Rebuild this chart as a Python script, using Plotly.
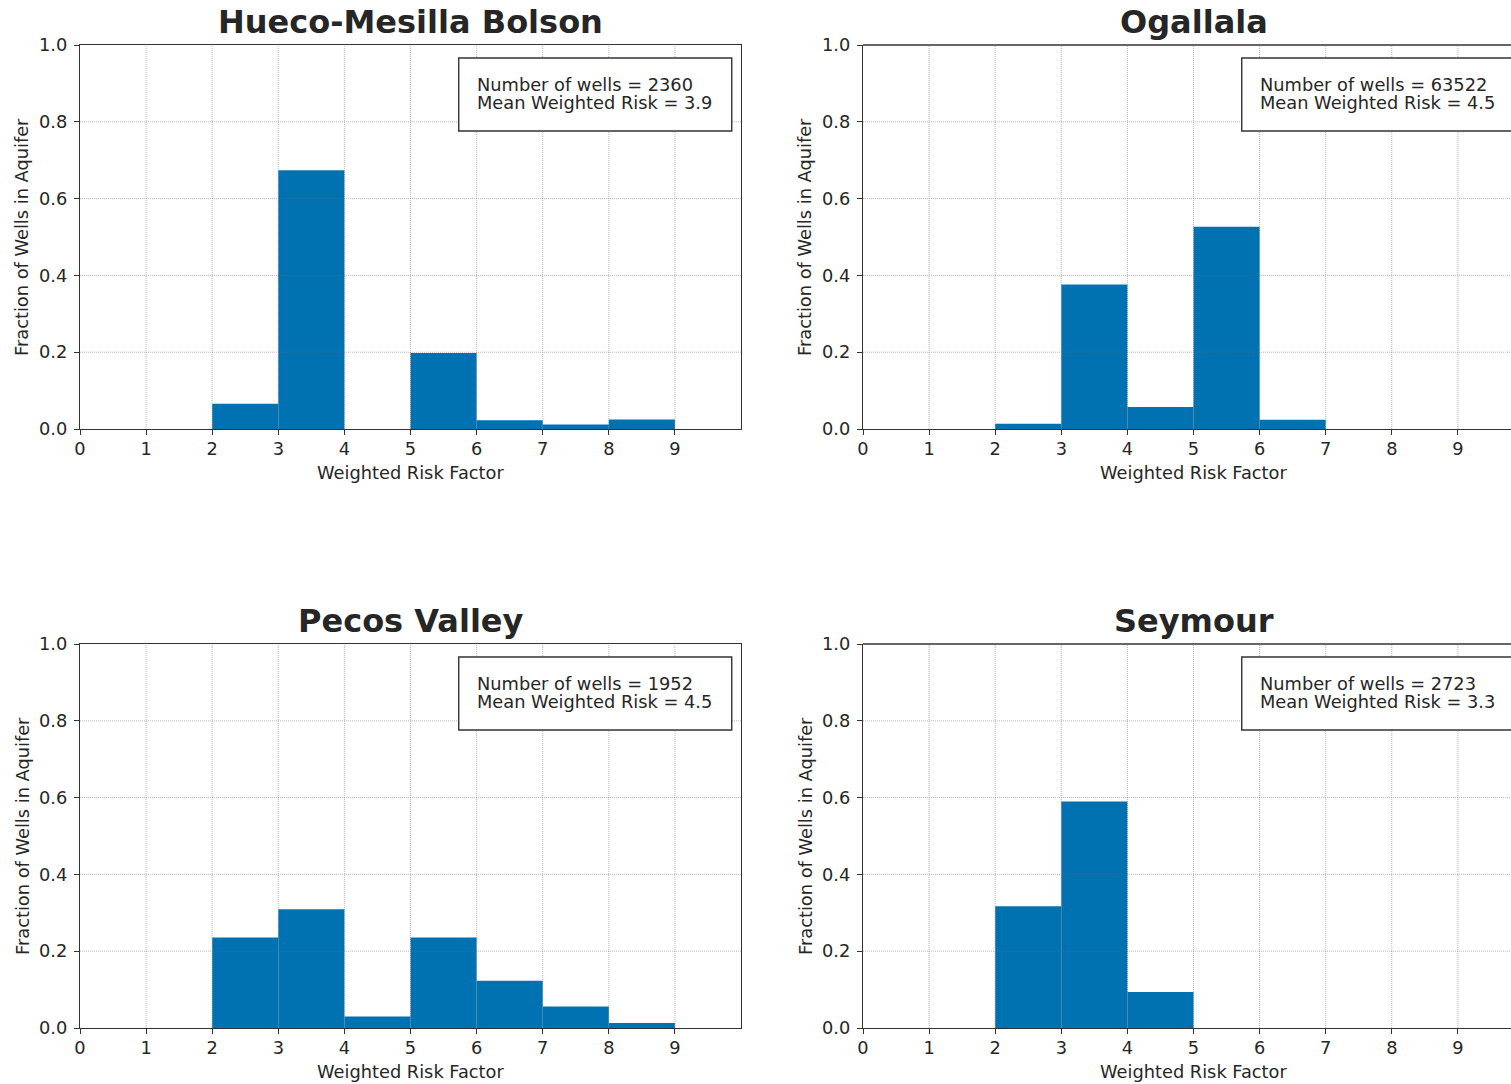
import plotly.graph_objects as go

# ---------------- data ----------------
aquifers = ["Hueco-Mesilla Bolson", "Ogallala", "Pecos Valley", "Seymour"]
n_wells = [2360, 63522, 1952, 2723]
mean_risk = [3.9, 4.5, 4.5, 3.3]
bin_left = [0, 1, 2, 3, 4, 5, 6, 7, 8]
hueco = [0.0, 0.0, 0.066, 0.674, 0.0, 0.198, 0.023, 0.012, 0.025]
ogallala = [0.0, 0.0, 0.0135, 0.376, 0.057, 0.527, 0.024, 0.0, 0.0]
pecos = [0.0, 0.0, 0.236, 0.309, 0.030, 0.236, 0.123, 0.056, 0.013]
seymour = [0.0, 0.0, 0.317, 0.590, 0.094, 0.0, 0.0, 0.0, 0.0]
series = [hueco, ogallala, pecos, seymour]
x_ticks = [0, 1, 2, 3, 4, 5, 6, 7, 8, 9]
y_ticks = [0.0, 0.2, 0.4, 0.6, 0.8, 1.0]

# ---------------- style ----------------
W, H = 1511, 1084
FONT = "DejaVu Sans"
TXT = "#262626"
BLUE = "#0072B2"
SPINE = "#333333"
GRID = "rgba(110,110,110,0.5)"
FS = 17.8
UNIT = 66.1  # px per x unit

# pixel layout of the plot areas
px_left = [(80, 741), (863, W), (80, 741), (863, W)]
px_top = [(45, 429), (45, 429), (644, 1028), (644, 1028)]

fig = go.Figure()
layout = dict(
    width=W, height=H,
    margin=dict(l=0, r=0, t=0, b=0, pad=0),
    paper_bgcolor="white", plot_bgcolor="white",
    showlegend=False,
    font=dict(family=FONT, size=FS, color=TXT),
    annotations=[], shapes=[],
)

for i, (name, vals) in enumerate(zip(aquifers, series)):
    k = "" if i == 0 else str(i + 1)
    xa, ya = "x" + k, "y" + k
    x0p, x1p = px_left[i]
    y0p, y1p = px_top[i]
    xdom = [x0p / W, min(x1p / W, 1.0)]
    ydom = [1 - y1p / H, 1 - y0p / H]
    xmax = (x1p - x0p) / UNIT
    right_cut = i in (1, 3)

    fig.add_trace(go.Bar(
        x=[b + 0.5 for b in bin_left], y=vals, width=1.0,
        marker=dict(color=BLUE, line=dict(width=0)),
        xaxis=xa, yaxis=ya, hoverinfo="skip",
    ))

    axis_common = dict(
        showline=True, linecolor=SPINE, linewidth=1.3,
        ticks="outside", ticklen=5, tickwidth=1.2, tickcolor=SPINE,
        showgrid=False, zeroline=False, layer="above traces",
        automargin=False,
        tickfont=dict(family=FONT, size=FS, color=TXT),
        fixedrange=True,
    )
    layout["xaxis" + k] = dict(
        axis_common, domain=xdom, range=[0, xmax], anchor=ya,
        tickmode="array", tickvals=x_ticks,
        mirror=(not right_cut), ticklabelstandoff=-2,
    )
    layout["yaxis" + k] = dict(
        axis_common, domain=ydom, range=[0, 1.0], anchor=xa,
        tickmode="array", tickvals=y_ticks, tickformat=".1f",
        mirror=(not right_cut), ticklabelstandoff=3,
    )

    # dotted grid drawn above the bars (as in the reference)
    for xv in x_ticks:
        if 0 < xv < xmax:
            layout["shapes"].append(dict(
                type="line", xref=xa, yref=ya, x0=xv, x1=xv, y0=0, y1=1,
                line=dict(color=GRID, width=1, dash="1px,1px"), layer="above",
            ))
    for yv in y_ticks:
        if 0 < yv < 1:
            layout["shapes"].append(dict(
                type="line", xref=xa, yref=ya, x0=0, x1=xmax, y0=yv, y1=yv,
                line=dict(color=GRID, width=1, dash="1px,1px"), layer="above",
            ))

    if right_cut:
        layout["shapes"].append(dict(
            type="line", xref="paper", yref="paper",
            x0=xdom[0], x1=1.0, y0=ydom[1], y1=ydom[1],
            line=dict(color=SPINE, width=1.3), layer="above",
        ))

    # info box
    layout["shapes"].append(dict(
        type="rect", xref=xa, yref=ya,
        x0=5.73, x1=9.86, y0=0.776, y1=0.966,
        line=dict(color=SPINE, width=1.4), fillcolor="white",
        layer="above",
    ))
    layout["annotations"].append(dict(
        xref=xa, yref=ya, x=5.98, y=0.898, xanchor="left", yanchor="middle",
        text=f"Number of wells = {n_wells[i]}", showarrow=False,
        font=dict(family=FONT, size=FS, color=TXT),
    ))
    layout["annotations"].append(dict(
        xref=xa, yref=ya, x=5.98, y=0.849, xanchor="left", yanchor="middle",
        text=f"Mean Weighted Risk = {mean_risk[i]}", showarrow=False,
        font=dict(family=FONT, size=FS, color=TXT),
    ))

    # title
    cx = (x0p + (x0p + 10 * UNIT)) / 2 / W
    layout["annotations"].append(dict(
        xref="paper", yref="paper", x=cx, y=1 - (y0p - 23) / H,
        xanchor="center", yanchor="middle", text=f"<b>{name}</b>",
        showarrow=False, font=dict(family=FONT, size=32, color=TXT),
    ))
    # axis titles
    layout["annotations"].append(dict(
        xref="paper", yref="paper", x=cx, y=1 - (y1p + 43) / H,
        xanchor="center", yanchor="middle", text="Weighted Risk Factor",
        showarrow=False, font=dict(family=FONT, size=FS, color=TXT),
    ))
    layout["annotations"].append(dict(
        xref="paper", yref="paper", x=(x0p - 58) / W, y=1 - ((y0p + y1p) / 2) / H,
        xanchor="center", yanchor="middle", text="Fraction of Wells in Aquifer",
        textangle=-90, showarrow=False, font=dict(family=FONT, size=FS, color=TXT),
    ))

fig.update_layout(**layout)
fig.write_html(
    "out.html",
    config={"displayModeBar": False},
    post_script="document.body.style.margin='0';document.body.style.overflow='hidden';",
)
